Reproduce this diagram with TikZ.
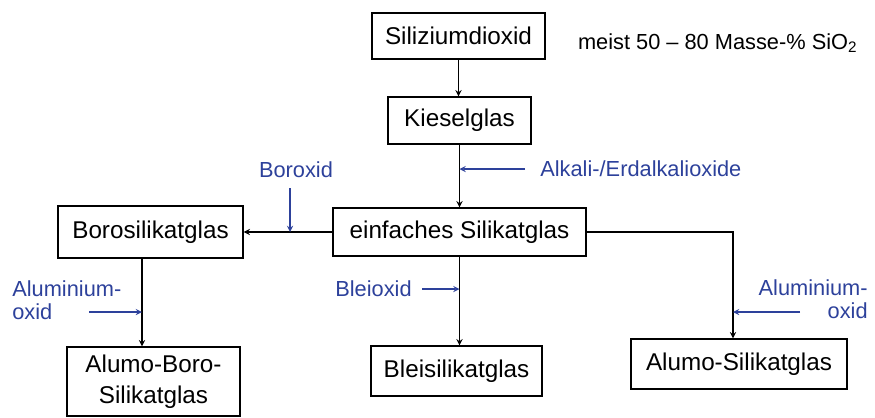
\documentclass[tikz,border=0pt]{standalone}
\usepackage{fontspec}
\setmainfont{Liberation Sans}
\usetikzlibrary{positioning,calc}

\definecolor{blau}{RGB}{45,65,155}

\begin{document}
\begin{tikzpicture}[
		glas/.style={draw=black,line width=0.8pt,align=center,inner sep=0pt,font=\fontsize{13.8}{17.6}\selectfont},
		zusatz/.style={text=blau,inner sep=0pt,font=\fontsize{12.4}{13.2}\selectfont},
		fluss/.style={-stealth,line width=0.6pt},
		zufuhr/.style={-stealth,line width=0.6pt,draw=blau},
	]
		\useasboundingbox (0,0) rectangle (17.5,-8.34);
		
		\node[glas,minimum width=3.46cm,minimum height=0.92cm] (sio2) at (9.17,-0.72) {Siliziumdioxid};
		\node[right=0.64cm of sio2,yshift=-0.14cm,inner sep=0pt,font=\fontsize{12.4}{14}\selectfont] (anteil) {meist 50 – 80 Masse-\% SiO\textsubscript{2}};
		\node[glas,minimum width=2.86cm,minimum height=0.94cm] (kiesel) at (9.19,-2.41) {Kieselglas};
		\node[glas,minimum width=5.06cm,minimum height=0.96cm] (einfach) at (9.19,-4.64) {einfaches Silikatglas};
		\node[glas,minimum width=3.7cm,minimum height=1.04cm] (boro) at (3.01,-4.64) {Borosilikatglas};
		\node[glas,minimum width=3.46cm,minimum height=1.38cm] (alboro) at (3.07,-7.63) {Alumo-Boro-\\Silikatglas};
		\node[glas,minimum width=3.42cm,minimum height=1.0cm] (blei) at (9.13,-7.42) {Bleisilikatglas};
		\node[glas,minimum width=4.32cm,minimum height=1.0cm] (alusi) at (14.78,-7.28) {Alumo-Silikatglas};
		
		% Hauptpfad
		\draw[fluss] (sio2.south) -- (sio2.south |- kiesel.north);
		\draw[fluss] (kiesel.south) -- (kiesel.south |- einfach.north);
		\draw[fluss] (einfach.west) -- (boro.east);
		\draw[fluss] (einfach.south) -- (einfach.south |- blei.north);
		\coordinate (bx) at (2.84,0);
		\coordinate (ax) at (14.66,0);
		\draw[fluss] (boro.south -| bx) -- (alboro.north -| bx);
		\draw[fluss] (einfach.east) -| (ax |- alusi.north);
		
		% Zusaetze
		\node[zusatz,anchor=west] (alkali) at (10.8,-3.38) {Alkali-/Erdalkalioxide};
		\draw[zufuhr,shorten <=0.3cm] (alkali) -- (alkali -| kiesel.south);
		
		\node[zusatz] (boroxid) at (5.92,-3.4) {Boroxid};
		\draw[zufuhr,shorten <=0.2cm] ([xshift=-0.12cm]boroxid.south) -- ([xshift=-0.12cm]boroxid.south |- einfach.west);
		
		\node[zusatz] (bleioxid) at (7.47,-5.78) {Bleioxid};
		\draw[zufuhr,shorten <=0.2cm] (bleioxid) -- (bleioxid -| einfach.south);
		
		\node[zusatz,align=left,anchor=west] (aloxl) at (0.24,-6.01) {Aluminium-\\oxid};
		\coordinate (al1) at (1.78,-6.24);
		\draw[zufuhr] (al1) -- (al1 -| bx);
		
		\node[zusatz,align=right,anchor=east] (aloxr) at (17.36,-5.98) {Aluminium-\\oxid};
		\coordinate (ar1) at (16.0,-6.24);
		\draw[zufuhr] (ar1) -- (ar1 -| ax);
	\end{tikzpicture}
\end{document}
